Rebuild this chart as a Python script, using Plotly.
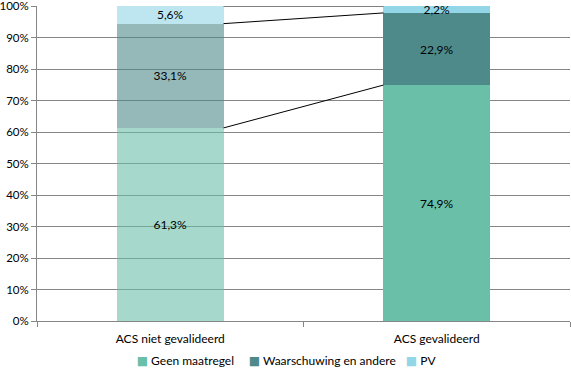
import plotly.graph_objects as go
import numpy as np

categories = ["ACS niet gevalideerd", "ACS gevalideerd"]
series_names = ["Geen maatregel", "Waarschuwing en andere", "PV"]
geen = [0.613, 0.749]
waarschuwing = [0.331, 0.229]
pv = [0.056, 0.022]
labels_geen = ["61,3%", "74,9%"]
labels_waarsch = ["33,1%", "22,9%"]
labels_pv = ["5,6%", "2,2%"]
y_ticks = [i / 10 for i in range(11)]
y_ticktext = [f"{i*10}%" for i in range(11)]

colors = ["#6ABFA8", "#4F8A8B", "#93D6E8"]
xpos = [0, 1]
bar_w = 0.4
font_family = "Lato, Carlito, Open Sans, sans-serif"
legend_ids = ["legend", "legend2", "legend3"]
legend_x = [0.112, 0.322, 0.617]

fig = go.Figure()
for name, vals, txt, col, lid in zip(series_names, [geen, waarschuwing, pv],
                                     [labels_geen, labels_waarsch, labels_pv], colors, legend_ids):
    fig.add_trace(go.Bar(
        x=xpos, y=vals, name=name, width=bar_w, showlegend=False, legendgroup=name,
        marker=dict(color=col, opacity=[0.6, 1.0], line=dict(width=0)),
        text=txt, textposition="inside", insidetextanchor="middle",
        constraintext="none", textfont=dict(color="black", size=12, family=font_family),
        hoverinfo="skip",
    ))
    # legend entry: coloured square glyph + name (symbol itself hidden)
    fig.add_trace(go.Scatter(
        x=[None], y=[None], mode="markers",
        name=f"<span style='color:{col};font-family:DejaVu Sans'>■</span> {name}",
        legendgroup=name, legend=lid,
        marker=dict(symbol="square", size=7, color="rgba(0,0,0,0)",
                    line=dict(width=0)), showlegend=True,
    ))

# series lines connecting segment tops
cum = np.cumsum(np.array([geen, waarschuwing, pv]), axis=0)
for row in cum:
    fig.add_trace(go.Scatter(
        x=[xpos[0] + bar_w / 2, xpos[1] - bar_w / 2], y=[row[0], row[1]],
        mode="lines", line=dict(color="black", width=1), showlegend=False,
        hoverinfo="skip",
    ))

legend_common = dict(orientation="h", xanchor="left", y=-0.125, yanchor="middle",
                     font=dict(size=12), itemwidth=30, bgcolor="rgba(0,0,0,0)")

fig.update_layout(
    barmode="stack",
    width=571, height=371,
    margin=dict(l=37, r=1, t=6, b=50, autoexpand=False),
    paper_bgcolor="white", plot_bgcolor="white",
    font=dict(family=font_family, size=12, color="black"),
    legend=dict(x=legend_x[0], **legend_common),
    legend2=dict(x=legend_x[1], **legend_common),
    legend3=dict(x=legend_x[2], **legend_common),
    xaxis=dict(range=[-0.5, 1.5], tickvals=xpos, ticktext=categories,
               showgrid=False, showline=True, linecolor="#868686", linewidth=1,
               ticks="", zeroline=False, automargin=False, ticklabelstandoff=7,
               minor=dict(tickvals=[-0.5, 0.5, 1.5], ticks="outside", ticklen=5,
                          tickcolor="#868686", showgrid=False)),
    yaxis=dict(range=[0, 1], tickvals=y_ticks, ticktext=y_ticktext,
               showgrid=True, gridcolor="#868686", gridwidth=1,
               showline=True, linecolor="#868686", linewidth=1, automargin=False,
               ticklabeloverflow="allow", tickfont=dict(size=11.5),
               ticks="outside", ticklen=5, tickcolor="#868686", zeroline=False),
)

fig.write_html("out.html", config={"displayModeBar": False},
               post_script="document.body.style.margin='0';")
